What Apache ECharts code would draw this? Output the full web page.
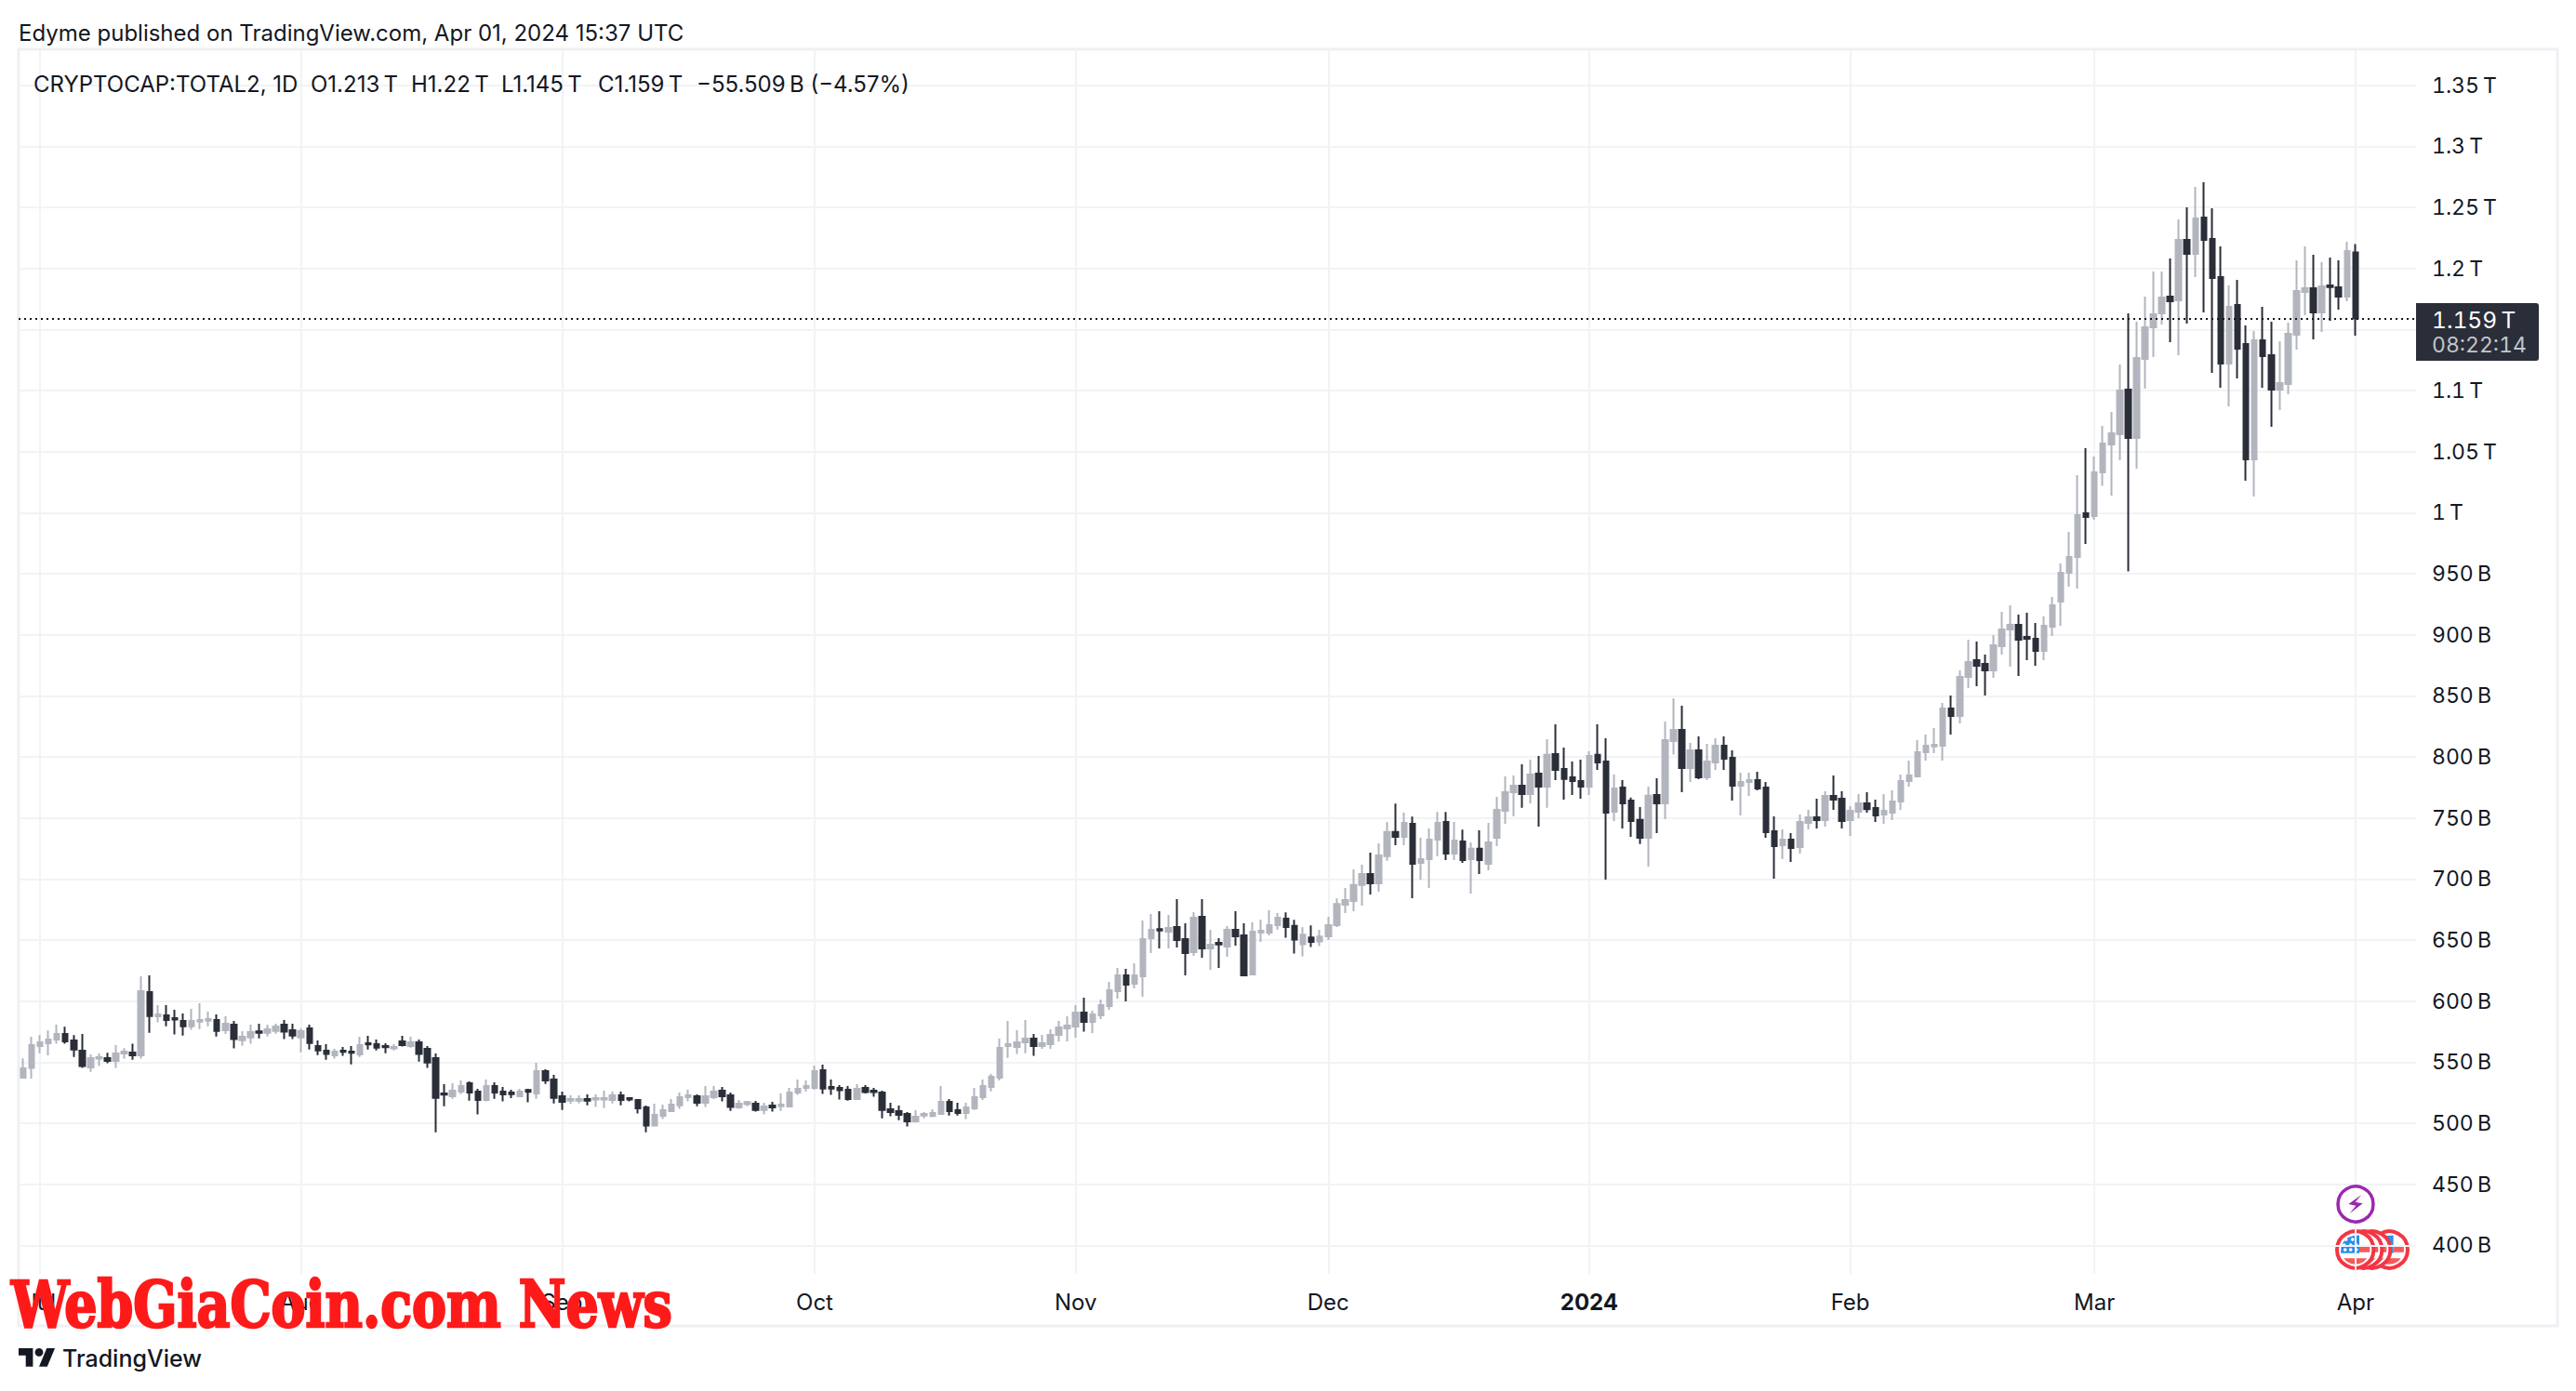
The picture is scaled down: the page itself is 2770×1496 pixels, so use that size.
<!DOCTYPE html>
<html>
<head>
<meta charset="utf-8">
<title>CRYPTOCAP:TOTAL2</title>
<script src="https://cdn.jsdelivr.net/npm/echarts@6/dist/echarts.min.js"></script>
<style>html,body{margin:0;padding:0;background:#fff}#c{width:2770px;height:1496px}#c text[style*="23px"],#c text[style*="24.5px"]{font-variant-numeric:tabular-nums !important;font-feature-settings:"tnum" 1 !important}</style>
</head>
<body>
<div id="c"></div>
<script>
// Daily candles, values in billions of USD. Index 0 = 29 Jun 2023, index 277 = 1 Apr 2024.
var opens = [
537.3,545.2,563.2,565.5,568.5,573.1,567.7,559.4,545.7,552.8,
553.3,551,557.1,557.9,555.6,607.3,587.5,588.3,586,583.7,
579.4,583.2,584,584.5,576.1,580.7,568,570.3,575.1,574.1,
575.6,580.7,576.1,570.3,577.6,563.2,559.4,555.6,559.4,558.6,
556.3,565.5,564.7,563.2,561.2,567,563.2,566.2,560.9,553.3,
524.4,522.1,525.9,532.7,525.9,519,530.4,525.9,525.1,522.1,
527.1,524.4,542.6,535.8,522.1,518.5,518.5,519.8,519.3,519.3,
519,522.8,520.5,519,512.9,498,506.1,509.9,514.7,521.3,
522.1,516.7,521.3,526.6,522.8,512.9,515.5,516,510.9,514.5,
513.9,513.7,525.1,528.9,528.9,543.4,529.7,528.9,527.4,519.8,
528.9,526.6,525.1,511.4,509.9,507.6,501.5,506.3,505.8,507.6,
517.5,510.6,508.4,512.2,521.3,529.7,537.3,563.2,562.4,566.2,
569.3,563.2,564.7,572.3,577.6,579.2,590.6,583,588.3,595.9,
608,621,614.2,620.3,651.5,659,656.8,660.6,650.7,640,
669,643.1,647.7,644.6,658.3,653.8,621.8,656,656,662.1,
667.5,661.5,646.5,652.1,648.8,653.1,662.2,679,682,695,
704.1,696.5,718.6,738.4,734.5,745.2,713.2,716.3,732.3,746.7,
720.8,730.7,716.3,724.7,712.5,733.8,755.9,771.1,776.4,769.6,
786.3,775.7,802.3,790.1,783.3,780.2,775.7,801.6,796.2,755.1,
774.9,764.2,748.3,733.8,768.8,762,812.9,822.1,790.9,805.3,
783.3,795.4,809.1,799.2,776.4,779.4,781,774.9,739.1,727.7,
732.2,726.1,745.9,750.5,748.2,768,765.7,748.2,755.1,761.9,
758.1,752.8,754.3,763.5,780.2,784,803.8,808.6,809.1,839.6,
833.5,865.5,879.2,876.1,870.8,890.6,904.3,908.1,898.2,896.7,
886.8,906.6,927.2,950.8,963.7,999.5,997.2,1033,1055.9,1064.2,
1100.8,1061.2,1125.9,1151.8,1163.2,1176.9,1173.9,1223.4,1211.9,1241.6,
1224.1,1192.9,1122.1,1170.1,1138.1,1043.7,1141.1,1129,1100.8,1105.4,
1145.7,1180.7,1183.8,1164,1186.1,1184.5,1176.9,1213];
var closes = [
544.9,563.9,566.2,568.5,573.1,567,560.4,546.7,553.3,554,
551,557.1,558.6,555.6,608.1,587.8,589.1,584.5,584.8,579.4,
583.7,584.5,585.3,575.6,581.5,568.8,570.8,574.6,574.1,576.9,
579.2,574.9,571.8,575.4,565.7,559.6,556.6,558.6,558.4,557.6,
563.9,564.4,561.9,562.2,562.4,563.9,566.2,556.6,549.7,520.8,
523.3,526.6,530.4,525.1,519,530.4,525.1,523.6,523.8,525.9,
525.6,542.6,535,520.8,517.5,519.8,519.8,518.5,520.5,520.5,
522.8,519,519.3,512.2,498,506.8,510.6,515.2,521.3,522.8,
516.7,522.1,525.9,522.1,513.2,516,517.2,510.9,513.7,512.9,
515.2,525.1,528.2,530.4,542.6,528.4,528.4,526.9,519.8,528.2,
525.4,525.4,510.9,509.1,506.8,501.5,505.3,507.6,508.4,517.5,
509.9,508.4,512.9,521.3,530.4,538,561.7,564.7,566.2,569.3,
563.2,565.5,572.3,578.4,579.9,590.6,583,589.1,596.7,608.9,
621,613.4,621,650.7,658.3,657.8,659.9,650,639.3,668.2,
643.1,646.2,646.4,658.3,653,621,656.8,657.6,662.1,668.2,
660.7,650.3,654.3,648.5,652.8,662.2,679.5,682.8,695,704.1,
696.5,719.3,738.4,734.5,746,712.5,716.3,732.3,746,720.8,
731.5,715.5,724.7,715.5,730,756.6,771.1,776.4,769.6,785.6,
775.7,801.6,789.4,781.8,780.2,775.7,800.8,795.5,754.3,774.1,
762,747.5,733.8,768.1,762,813.7,822.1,790.9,805.3,783.3,
796.2,809.1,798.5,776.4,779.4,781,774.1,738.3,726.9,732.2,
725.4,746.7,750.5,748.2,768,765,747.5,755.8,761.9,757.1,
752,755.8,763.5,780.2,784.8,803.8,809.1,809.9,839.6,833.5,
865.5,877.7,874.6,870.8,891.4,904.3,908.1,895.9,896.7,886.8,
907.4,924.1,950.8,963.7,998,996.5,1033,1056.6,1065,1100,
1061.2,1126.7,1151.8,1162.5,1176.2,1173.1,1223.4,1211.9,1240.9,1223.4,
1192.2,1122.1,1168.5,1134.3,1043.7,1141.1,1128.2,1100.8,1106.1,1146.5,
1181.5,1183.8,1164,1185.3,1184.8,1176.9,1214.2,1159];
var lows = [
536.5,536.5,557.3,555.6,565,565,554.3,545.2,542.1,546.7,
549,545.2,552.8,552,552.8,574.1,582.5,579.4,572.6,571.8,
576.4,577.1,579.4,571,573.1,561.2,563.4,565,569.5,571,
573.3,568.8,568.8,558.1,560.4,555.8,552,552.8,555.1,548.2,
554.3,560.4,559.6,557.3,559.6,562.7,561.9,550.5,545.2,492.6,
513.9,520,523.8,518.5,507.1,517.8,520,517.8,520.5,521.3,
517,520,532.2,516.2,510.9,516,516.2,514.7,513.2,512.4,
516.2,514.7,517.8,507.9,492.6,497.2,503.3,509.4,511.7,517.8,
513.9,513.2,519.8,517.8,510.1,511.7,513.9,509.4,507.1,509.4,
510.1,513.2,523.1,525.9,527.4,524,523.1,519.3,518.5,519,
524.4,521.6,504,505.6,502.5,497.2,501,504,505,506.8,
506.3,506.3,503.3,510.9,519,526.1,535,553.5,556.6,557.3,
555.1,560.9,560.9,567,567,570,574.9,573.8,585.3,592.9,
602,599.7,610.4,603.5,639.3,643.1,643.1,643.9,621,637,
635.5,625.6,627.1,636.3,645.4,620.3,621,648.4,653.8,658.3,
651.8,638.9,636.6,644.2,645,650,660.7,672.1,673.6,678.2,
687.3,689.6,714.8,727.7,727.7,684.3,699.5,692.7,718.6,715.5,
715.5,713.2,688.1,704.1,707.1,726.9,745.2,751.3,758.2,762,
742.9,758.2,781,765,768.8,765.8,768.8,789.4,699.5,747.5,
741.4,734.5,728.5,710.2,737.6,749,801.8,771.1,779.4,781.7,
781,789.4,789.4,764.2,752,768,772.6,733.8,700.3,716.3,
714,720.8,740.6,741.4,742.9,756.6,741.4,735.3,749.8,754.3,
746.7,745.2,748.2,756.6,775.6,783.3,797,803,797,818.3,
827.4,856.3,857.9,850.3,864.7,883.8,873.9,866.2,879.2,874.6,
879.2,899,907.4,939.3,937.8,974.4,994.2,1021.9,1014,1042.9,
951.8,1036.1,1101.6,1127.4,1154.1,1139.6,1129,1154.8,1192.9,1164,
1114.5,1102.3,1087.1,1109.9,1026.2,1013.2,1102.3,1070.3,1084,1097,
1133.5,1161.7,1141.9,1148,1157.1,1166.3,1173.1,1145];
var highs = [
553,570.8,572.1,575.9,580.7,578.9,572.1,573.1,556.3,557.1,
557.6,563.9,561.4,565,620.3,621,596.7,596.7,592.9,589.8,
593.6,598.2,591.4,589.1,587.5,583.7,575.4,580.7,581.5,580.7,
581.5,584.5,581.5,577.6,580.7,567.7,564.7,560.9,562.4,563.2,
570.8,571.6,568.5,565.5,564.7,571.6,570.8,568.5,563.2,557.1,
532,532.7,535,534.2,528.2,535.8,533.5,529.7,527.4,528.2,
528.2,549.5,544.1,539.6,525.9,522.8,522.8,523.6,523.6,526.6,
525.9,525.9,521.3,519.8,514.5,516,515.2,519.8,525.1,527.4,
523.6,530.4,530.4,529.7,525.1,519,518.3,518.3,516.7,517.5,
524.4,528.9,535.8,535,547.2,548,535.8,531.2,530.4,532,
531.2,528.9,526.6,516.7,514.5,509.1,510.6,509.1,511.4,530.4,
519.8,516.7,516.7,528.9,535.8,540.3,569.3,583.7,576.1,584.5,
573.1,572.3,576.9,583.7,587.5,596.7,602.8,592.1,601.2,615.7,
627.1,626.4,630.9,666,671.3,673.6,670.5,683.5,663.7,672.8,
683.5,658.3,651.5,661.4,673.6,663.7,664.4,666.7,674.3,672,
672.6,666.5,660.4,662,658.4,669.1,684,692.7,707.9,711.7,
721.6,729.2,746.7,761.7,754.3,751,733.8,741.4,754.9,754.9,
746.7,740.4,730,739.9,746,767.3,784,784.8,793.9,797.7,
800.8,814.5,826.7,807.6,796.2,797.7,804.6,826.7,815.3,785.6,
781,766.6,758.9,775.7,782.5,829,848,841.9,811.4,816.8,
810.7,815.2,816.8,805.3,787.1,787.1,787.8,779.4,751.3,740.6,
737.6,752.8,756.6,765.7,771.8,784.8,771.8,759.7,769.5,771.1,
765,769.5,772.6,785.5,797,813.7,818.3,823.6,844.2,850.3,
870.8,895.9,894.4,883.8,899.7,918.8,924.1,916.5,918,909.6,
915,931,958.4,984.3,1030.7,1052.8,1046,1071.1,1082.5,1121.3,
1163.2,1156.4,1176.9,1197.5,1197.5,1208.1,1240.1,1250,1266.8,1270.6,
1249.3,1218,1186.1,1190.6,1153.3,1148.8,1168.5,1156.4,1140.4,1155.6,
1206.6,1218,1211.2,1205.1,1208.9,1206.6,1221.8,1220];

var gridTicks = [400,450,500,550,600,650,700,750,800,850,900,950,1000,1050,1100,1150,1200,1250,1300,1350];
var priceLabels = [400,450,500,550,600,650,700,750,800,850,900,950,1000,1050,1100,1200,1250,1300,1350];
var monthTicks = [2,33,64,94,125,155,186,217,246,277];
var monthLabels = ['Jul','Aug','Sep','Oct','Nov','Dec','2024','Feb','Mar','Apr'];
var lastPrice = 1159;

var TEXT = '#131722', UP = '#b2b5be', DOWN = '#2a2e39', GRID = '#f2f3f5', FRAME = '#eff0f4', FONT = 'Inter';

var candles = opens.map(function (o, i) { return [i, o, closes[i], lows[i], highs[i]]; });

function priceLabel(v) {
  return v >= 1000 ? (v / 1000) + '\u2009T' : v + '\u2009B';
}
function txt(x, y, s, size, color, weight) {
  return {type: 'text', x: x, y: y, z: 100, silent: true, style: {
    text: s, x: 0, y: 0, fill: color || TEXT, font: (weight || 400) + ' ' + size + 'px ' + FONT,
    textVerticalAlign: 'middle', textAlign: 'left'}};
}
function poly(points, fill) {
  return {type: 'polygon', shape: {points: points}, style: {fill: fill}};
}
function flag(cx, cy) {
  var stars = [[-10,-11],[-3,-11],[-12,-5],[-5,-5],[1,-5],[-11,0],[-5,0],[1,0]];
  var kids = [
    {type: 'circle', shape: {cx: 0, cy: 0, r: 19.7}, style: {fill: '#fff', stroke: '#f23645', lineWidth: 4}},
    poly([[4.3,-4],[15.3,-4],[15.7,0],[15.4,2.7],[4.3,2.7]], '#f55a5a'),
    poly([[-12.5,9.3],[12.5,9.3],[9,13],[4,15.2],[0,15.7],[-4,15.2],[-9,13]], '#f55a5a'),
    poly([[-15.7,3.7],[4.3,3.7],[4.3,-15.4],[-2,-15],[-8,-13],[-13,-8],[-15.2,-3]], '#2e8fe8')
  ];
  stars.forEach(function (s) {
    kids.push({type: 'circle', shape: {cx: s[0], cy: s[1], r: 1.8}, style: {fill: '#fff'}});
  });
  return {type: 'group', x: cx, y: cy, z: 100, silent: true, children: kids};
}

var graphics = [
  {type: 'rect', z: 0, silent: true, shape: {x: 20, y: 53, width: 2730, height: 1373}, style: {fill: 'none', stroke: FRAME, lineWidth: 3}},
  txt(20, 35, 'Edyme published on TradingView.com, Apr 01, 2024 15:37 UTC', 24, TEXT),
  txt(36, 90, 'CRYPTOCAP:TOTAL2, 1D', 24, TEXT),
  txt(334, 90, 'O1.213\u2009T', 24, TEXT),
  txt(442, 90, 'H1.22\u2009T', 24, TEXT),
  txt(539, 90, 'L1.145\u2009T', 24, TEXT),
  txt(643, 90, 'C1.159\u2009T', 24, TEXT),
  txt(749, 90, '\u221255.509\u2009B (\u22124.57%)', 24, TEXT),
  {type: 'rect', z: 100, silent: true, shape: {x: 2598, y: 326, width: 132, height: 62, r: [0, 3, 3, 0]}, style: {fill: DOWN}},
  txt(2615, 344, '1.159\u2009T', 24.5, '#ffffff'),
  txt(2615, 371, '08:22:14', 23, '#c3c5cb'),
  {type: 'circle', z: 100, silent: true, shape: {cx: 2533, cy: 1295, r: 19}, style: {fill: '#fff', stroke: '#9c27b0', lineWidth: 3.5}},
  {type: 'polygon', z: 101, silent: true, shape: {points: [[2539.3,1285],[2525.3,1295],[2533.3,1296.7],[2526.7,1305],[2540.7,1294.3],[2532.7,1292.7]]}, style: {fill: '#9c27b0'}},
  flag(2569.3, 1344), flag(2550.7, 1344), flag(2541.7, 1344), flag(2532.7, 1344),
  {type: 'group', x: 20, y: 1445.6, scaleX: 1.1, scaleY: 1.1, z: 100, silent: true, children: [
    poly([[0,4],[14,4],[14,22],[7,22],[7,11],[0,11]], TEXT),
    poly([[20,22],[27.5,4],[35.5,4],[28,22]], TEXT),
    {type: 'circle', shape: {cx: 20, cy: 8, r: 4}, style: {fill: TEXT}}
  ]},
  txt(67, 1461, 'TradingView', 25, TEXT, 500),
  {type: 'text', x: 12, y: 1403, z: 200, silent: true, scaleX: 0.88, style: {
    text: 'WebGiaCoin.com News', x: 0, y: 0, fill: '#ff1a1a', stroke: '#ff1a1a', lineWidth: 2.5,
    font: '700 70px "DejaVu Serif Condensed"', textVerticalAlign: 'middle', textAlign: 'left'}}
];

var chart = echarts.init(document.getElementById('c'), null, {renderer: 'svg'});
chart.setOption({
  animation: false,
  backgroundColor: '#ffffff',
  textStyle: {fontFamily: FONT},
  grid: {left: 20, right: 172, top: 54, bottom: 126, containLabel: false},
  xAxis: {
    type: 'value', min: -0.55, max: 284.2, scale: true,
    axisLine: {show: false},
    axisTick: {show: false, customValues: monthTicks},
    splitLine: {show: true, lineStyle: {color: GRID, width: 2}},
    axisLabel: {
      customValues: monthTicks, margin: 18, fontSize: 24, color: TEXT, fontFamily: FONT,
      formatter: function (v) {
        var s = monthLabels[monthTicks.indexOf(v)];
        return s === '2024' ? '{b|2024}' : s;
      },
      rich: {b: {fontWeight: 700, fontSize: 24, color: TEXT, fontFamily: FONT}}
    }
  },
  yAxis: {
    type: 'value', position: 'right', min: 376.6, max: 1378.7, scale: true,
    axisLine: {show: false},
    axisTick: {show: false, customValues: gridTicks},
    splitLine: {show: true, lineStyle: {color: GRID, width: 2}},
    axisLabel: {
      customValues: priceLabels, margin: 17, fontSize: 23, color: TEXT, fontFamily: FONT,
      padding: [4, 0, 0, 0],
      formatter: priceLabel
    }
  },
  series: [{
    type: 'candlestick',
    data: candles,
    encode: {x: 0, y: [1, 2, 3, 4]},
    barWidth: 6,
    itemStyle: {color: UP, color0: DOWN, borderColor: UP, borderColor0: DOWN, borderWidth: 2},
    markLine: {
      silent: true, symbol: 'none', animation: false,
      label: {show: false},
      lineStyle: {color: TEXT, type: [2, 4], width: 2},
      data: [{yAxis: lastPrice}]
    }
  }],
  graphic: {elements: graphics}
});
</script>
</body>
</html>
